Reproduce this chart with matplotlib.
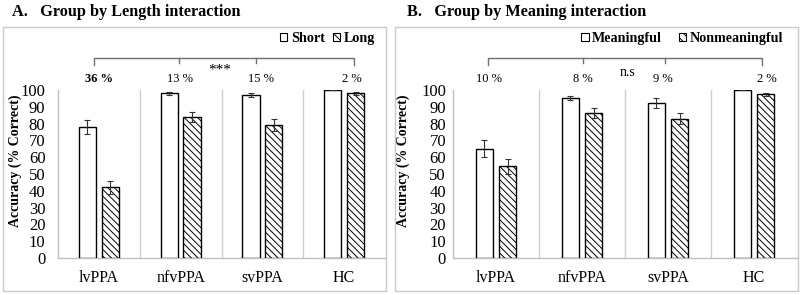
import numpy as np
import matplotlib
matplotlib.use("Agg")
import matplotlib.pyplot as plt
from matplotlib.patches import Patch, Rectangle

plt.rcParams['font.family'] = ['Liberation Serif', 'DejaVu Serif']
plt.rcParams['hatch.linewidth'] = 0.7

groups = ["lvPPA", "nfvPPA", "svPPA", "HC"]

# panel A: length
short_vals = [78, 98, 97, 100]
short_err = [4, 0.8, 1, 0]
long_vals = [42, 84, 79, 98]
long_err = [4, 3, 3.5, 1]
len_diff = ["36 %", "13 %", "15 %", "2 %"]

# panel B: meaning
mean_vals = [65, 95.5, 92.5, 100]
mean_err = [5, 1.2, 3, 0]
nonmean_vals = [54.5, 86.5, 83, 97.5]
nonmean_err = [4.5, 3, 3.5, 1]
mean_diff = ["10 %", "8 %", "9 %", "2 %"]

W, H = 800, 295
fig = plt.figure(figsize=(W / 100, H / 100), dpi=100)

def px_axes(l, r, top, bot):
    return fig.add_axes([l / W, (H - bot) / H, (r - l) / W, (bot - top) / H])

def panel_box(l, r, top, bot):
    fig.patches.append(Rectangle((l / W, (H - bot) / H), (r - l) / W, (bot - top) / H,
                                 transform=fig.transFigure, fill=False,
                                 edgecolor='#c8c8c8', lw=1.0))

def draw_panel(ax, a_vals, a_err, b_vals, b_err, names, diffs, bold_first,
               bw, off, lab_x, br_x, star, star_x, star_y, star_size,
               ypad, leg_x, colsp):
    x = np.arange(len(groups))
    ax.bar(x - off, a_vals, bw, color='white', edgecolor='black', lw=1.0, zorder=3)
    ax.bar(x + off, b_vals, bw, color='white', edgecolor='black', lw=1.0,
           hatch='\\\\\\\\\\', zorder=3)
    ax.errorbar(x - off, a_vals, yerr=a_err, fmt='none', ecolor='#333333',
                elinewidth=0.8, capsize=2.5, capthick=0.8, zorder=4)
    ax.errorbar(x + off, b_vals, yerr=b_err, fmt='none', ecolor='#333333',
                elinewidth=0.8, capsize=2.5, capthick=0.8, zorder=4)
    ax.set_xlim(-0.5, 3.5)
    ax.set_ylim(0, 100)
    ax.set_yticks(range(0, 101, 10))
    ax.set_xticks(x)
    ax.set_xticklabels(groups, fontsize=11.5)
    ax.tick_params(axis='y', length=0, pad=ypad, labelsize=12)
    ax.tick_params(axis='x', length=0, pad=9)
    for s in ['top', 'right']:
        ax.spines[s].set_visible(False)
    for s in ['left', 'bottom']:
        ax.spines[s].set_color('#bfbfbf')
        ax.spines[s].set_linewidth(1.0)
    for xs in [0.5, 1.5, 2.5]:
        ax.axvline(xs, color='#d0d0d0', lw=1.0, zorder=1)
    ax.set_ylabel("Accuracy (% Correct)", fontweight='bold', fontsize=10)

    # bracket
    ax.plot([br_x[0], br_x[0], br_x[-1], br_x[-1]], [115, 119, 119, 115],
            color='#707070', lw=1.0, clip_on=False)
    for bx in br_x[1:-1]:
        ax.plot([bx, bx], [119, 116], color='#707070', lw=1.0, clip_on=False)
    for i, (lx, t) in enumerate(zip(lab_x, diffs)):
        ax.text(lx, 106.5, t, ha='center', va='center', fontsize=9,
                fontweight='bold' if (bold_first and i == 0) else 'normal')
    ax.text(star_x, star_y, star, ha='center', va='center', fontsize=star_size)

    handles = [Patch(facecolor='white', edgecolor='black', lw=0.8),
               Patch(facecolor='white', edgecolor='black', lw=0.8, hatch='\\\\\\\\')]
    ax.legend(handles, names, loc='center right', bbox_to_anchor=(leg_x, 1.305),
              ncol=2, frameon=False, handlelength=0.5, handleheight=0.5,
              handletextpad=0.25, columnspacing=colsp, borderaxespad=0.0,
              borderpad=0.0, prop={'weight': 'bold', 'size': 10.2})

# panel A
panel_box(3, 386, 27, 291)
axA = px_axes(58, 385, 90, 258)
draw_panel(axA, short_vals, short_err, long_vals, long_err, ["Short", "Long"],
           len_diff, True, 0.21, 0.14,
           [0.0, 0.99, 1.98, 3.1], [-0.06, 0.98, 1.92, 3.12], "***", 1.48, 112, 11,
           9.0, 0.97, 0.6)
axA.yaxis.set_label_coords(-0.11, 0.58)
fig.text(12 / W, 1 - 12 / H, "A.   Group by Length interaction", fontsize=11.7,
         fontweight='bold', va='center', ha='left')

# panel B
panel_box(395, 798, 27, 291)
axB = px_axes(453, 797, 90, 258)
draw_panel(axB, mean_vals, mean_err, nonmean_vals, nonmean_err,
           ["Meaningful", "Nonmeaningful"], mean_diff, False, 0.2, 0.135,
           [-0.08, 1.01, 1.94, 3.15], [-0.09, 1.01, 1.97, 3.09], "n.s", 1.53, 110.7, 10,
           5.0, 0.96, 1.2)
axB.yaxis.set_label_coords(-0.125, 0.58)
fig.text(407 / W, 1 - 12 / H, "B.   Group by Meaning interaction", fontsize=11.7,
         fontweight='bold', va='center', ha='left')

fig.savefig("out.png", dpi=100)
